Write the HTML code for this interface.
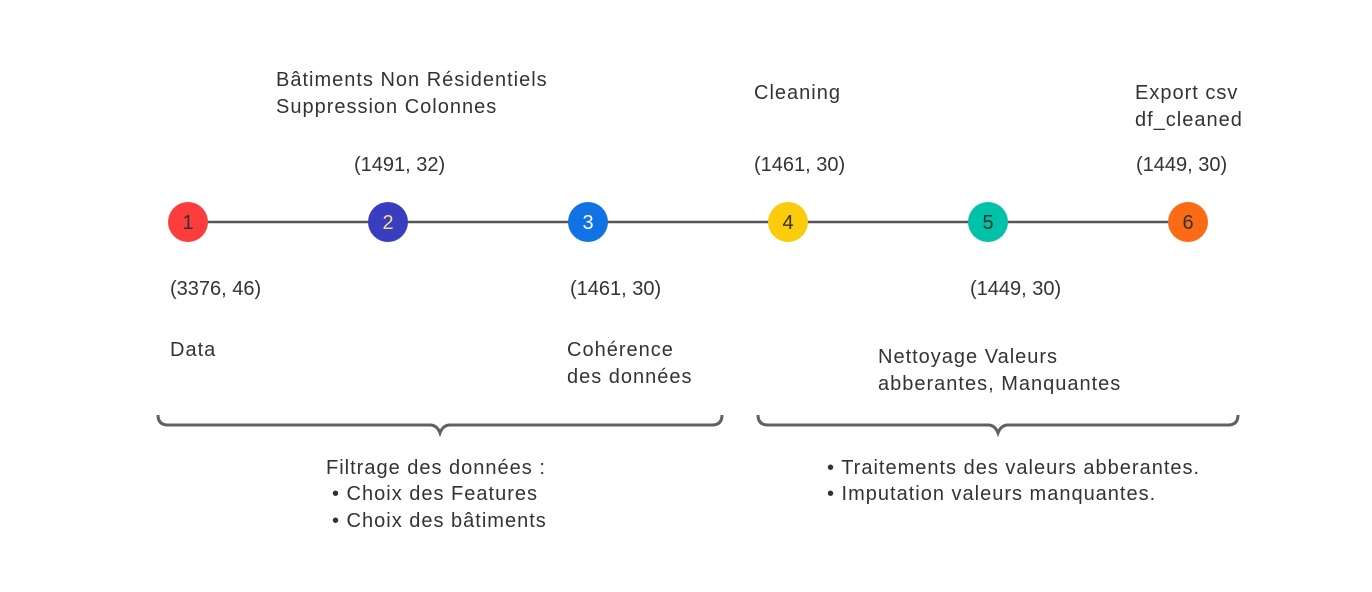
<!DOCTYPE html>
<html><head><meta charset="utf-8"><style>
html,body{margin:0;padding:0;background:#fff;}
svg text{font-family:"Liberation Sans",sans-serif;fill:#333;font-size:20px;}
svg text.w{letter-spacing:1px;}
</style></head><body>
<svg id="c" width="1372" height="587" viewBox="0 0 1372 587" xmlns="http://www.w3.org/2000/svg">
<line x1="188" y1="222" x2="1188" y2="222" stroke="#555" stroke-width="2.5"/>
<g id="steps"></g>
<g id="labels"></g>
<path d="M158 415 Q158 425 168 425 L430 425 Q437 425 440 433 Q443 425 450 425 L712 425 Q722 425 722 415" fill="none" stroke="#606060" stroke-width="3"/>
<path d="M758 415 Q758 425 768 425 L988 425 Q995 425 998 433 Q1001 425 1008 425 L1228 425 Q1238 425 1238 415" fill="none" stroke="#606060" stroke-width="3"/>
<text class="w" x="326" y="474">Filtrage des données :</text>
<text class="w" x="332" y="500">• Choix des Features</text>
<text class="w" x="332" y="527">• Choix des bâtiments</text>
<text class="w" x="827" y="474">• Traitements des valeurs abberantes.</text>
<text class="w" x="827" y="500">• Imputation valeurs manquantes.</text>
</svg>
<script>
const stepNumbers = ["1","2","3","4","5","6"];
const stepColors = ["#fd3c3c","#393dbf","#1072e5","#fbcc0b","#00c2a8","#fb6b15"];
const numColors = ["#333","#f5e08a","#fff","#333","#333","#333"];
const shapes = ["(3376, 46)","(1491, 32)","(1461, 30)","(1461, 30)","(1449, 30)","(1449, 30)"];
const titles = [["Data"],["Bâtiments Non Résidentiels","Suppression Colonnes"],["Cohérence","des données"],["Cleaning"],["Nettoyage Valeurs","abberantes, Manquantes"],["Export csv","df_cleaned"]];
const NS="http://www.w3.org/2000/svg";
const g=document.getElementById('steps'), lg=document.getElementById('labels');
function xPos(i){return 188+i*200;}
stepNumbers.forEach((n,i)=>{
  const cx=xPos(i);
  const c=document.createElementNS(NS,'circle');
  c.setAttribute('cx',cx);c.setAttribute('cy',222);c.setAttribute('r',20);c.setAttribute('fill',stepColors[i]);
  
  
  g.appendChild(c);
  const t=document.createElementNS(NS,'text');
  t.setAttribute('x',cx);t.setAttribute('y',229);t.setAttribute('text-anchor','middle');t.style.fill=numColors[i];
  t.textContent=n;
  
  
  g.appendChild(t);
  const below=(i%2===0);
  const s=document.createElementNS(NS,'text');
  let sx = below ? cx-18 : (i===5 ? cx-52 : cx-34);
  s.setAttribute('x',sx);s.setAttribute('y',below?295:171);
  s.textContent=shapes[i];
  
  
  lg.appendChild(s);
  const tl=titles[i];
  let tx=cx-18, ty;
  if(i===0) ty=356; else if(i===2){tx=cx-21;ty=356;} else if(i===4){tx=cx-110;ty=363;}
  else if(i===1){tx=cx-112;ty=86;} else if(i===3){tx=cx-34;ty=99;} else {tx=cx-53;ty=99;}
  tl.forEach((line,k)=>{
    const e=document.createElementNS(NS,'text');
    e.setAttribute('x',tx);e.setAttribute('y',ty+k*27);
    e.setAttribute('class','w');
    e.textContent=line;
    
    
    lg.appendChild(e);
  });
});
</script>
</body></html>
